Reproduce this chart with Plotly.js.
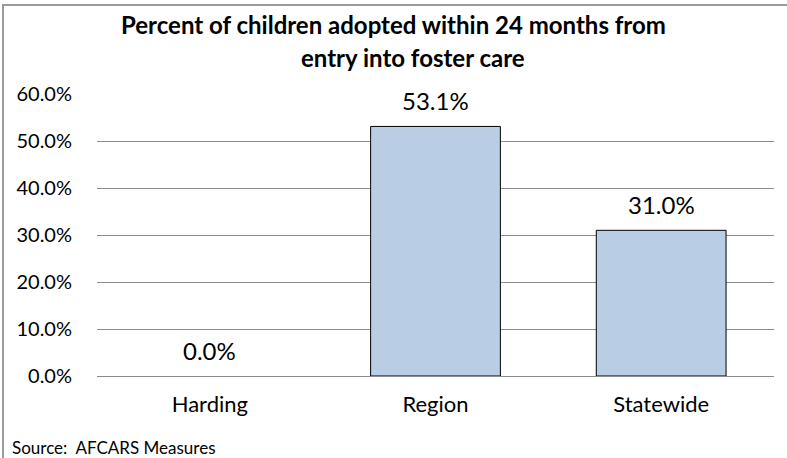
<!DOCTYPE html>
<html>
<head>
<meta charset="utf-8">
<script src="https://cdn.plot.ly/plotly-3.0.1.min.js"></script>
<style>
  html, body { margin: 0; padding: 0; background: #fff; }
  #chart { width: 787px; height: 458px; }
</style>
</head>
<body>
<div id="chart"></div>
<script>
const categories = ['Harding', 'Region', 'Statewide'];
const values = [0.0, 53.1, 31.0];
const valueLabels = ['0.0%', '53.1%', '31.0%'];
const yTickVals = [0, 10, 20, 30, 40, 50, 60];
const yTickText = ['0.0%', '10.0%', '20.0%', '30.0%', '40.0%', '50.0%', '60.0%'];
const titleLines = ['Percent of children adopted within 24 months from', 'entry into foster care'];
const sourceText = 'Source:  AFCARS Measures';

const W = 787, H = 458;
const M = { l: 97, r: 13, t: 94, b: 82 };
const pw = W - M.l - M.r, ph = H - M.t - M.b;
const px = x => (x - M.l) / pw;
const py = y => (H - M.b - y) / ph;

const FONT = 'Lato, "Open Sans", sans-serif';

const trace = {
  type: 'bar',
  x: categories,
  y: values,
  width: 0.575,
  marker: {
    color: '#B9CDE5',
    line: { color: '#000000', width: values.map(v => (v === 0 ? 0 : 1)) }
  },
  hoverinfo: 'skip'
};

const annotations = categories.map((c, i) => ({
  x: c, y: values[i], xref: 'x', yref: 'y',
  text: valueLabels[i], showarrow: false,
  yanchor: 'middle', yshift: 26,
  font: { family: FONT, size: 24, color: '#000' }
}));
annotations.push({
  x: px(10), y: py(447), xref: 'paper', yref: 'paper',
  xanchor: 'left', yanchor: 'middle', showarrow: false,
  text: sourceText, font: { family: FONT, size: 17, color: '#000' }
});
const titlePos = [[393, 25], [413, 57]];
titleLines.forEach((t, i) => annotations.push({
  x: px(titlePos[i][0]), y: py(titlePos[i][1]), xref: 'paper', yref: 'paper',
  xanchor: 'center', yanchor: 'middle', showarrow: false,
  text: '<b>' + t + '</b>',
  font: { family: FONT, size: 24, color: '#000' }
}));

const layout = {
  width: W, height: H,
  margin: M,
  paper_bgcolor: '#fff', plot_bgcolor: '#fff',
  showlegend: false,
  xaxis: {
    type: 'category',
    showgrid: false, zeroline: false, showline: false,
    ticks: 'outside', ticklen: 9, tickcolor: 'rgba(0,0,0,0)',
    tickfont: { family: FONT, size: 22, color: '#000' },
    fixedrange: true
  },
  yaxis: {
    range: [0, 60],
    tickvals: yTickVals, ticktext: yTickText,
    showgrid: true, gridcolor: '#8c8c8c', gridwidth: 1,
    zeroline: true, zerolinecolor: '#8c8c8c', zerolinewidth: 1,
    showline: false,
    ticks: 'outside', ticklen: 20, tickcolor: 'rgba(0,0,0,0)',
    tickfont: { family: FONT, size: 20, color: '#000' },
    fixedrange: true
  },
  annotations: annotations,
  shapes: [{
    type: 'rect', xref: 'paper', yref: 'paper',
    x0: px(3), x1: px(800), y0: py(475), y1: py(5),
    line: { color: '#9a9a9a', width: 2 }, fillcolor: 'rgba(0,0,0,0)',
    layer: 'below'
  }]
};

Plotly.newPlot('chart', [trace], layout, { displayModeBar: false, staticPlot: true });
</script>
</body>
</html>
